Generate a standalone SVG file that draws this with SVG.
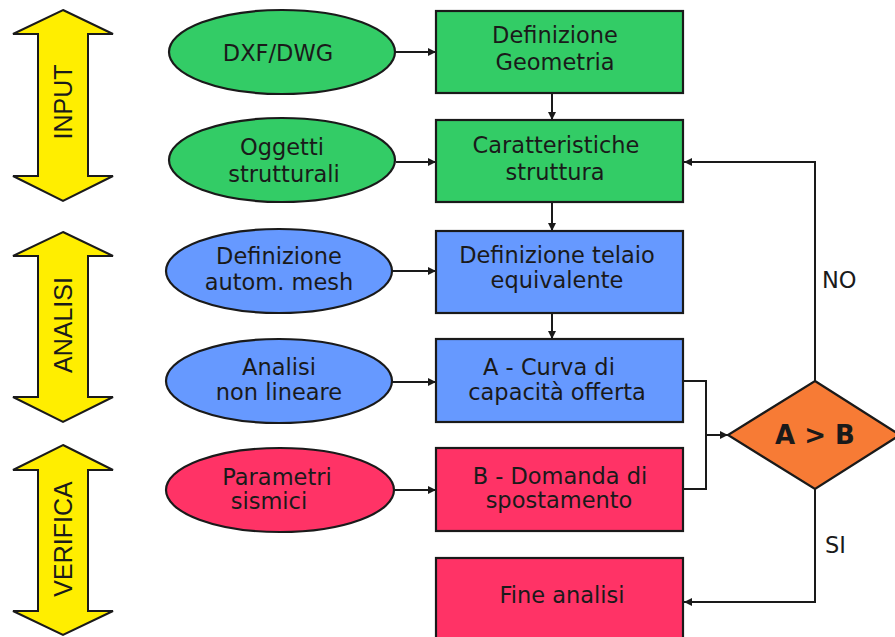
<svg xmlns="http://www.w3.org/2000/svg" width="895" height="637" viewBox="0 0 895 637">
<defs>
<marker id="ah" viewBox="0 0 10 10" refX="10" refY="5" markerWidth="11" markerHeight="8" markerUnits="userSpaceOnUse" orient="auto">
<path d="M0,0 L10,5 L0,10 Z" fill="#1a1a1a"/>
</marker>
<style>
.band{fill:#FFEE00;stroke:#1a1a1a;stroke-width:2;stroke-linejoin:miter}
.bl{font-family:"Liberation Sans",Arial,sans-serif;font-size:25px;fill:#1a1a1a;text-anchor:middle}
.n{stroke:#1a1a1a;stroke-width:2.2}
.g{fill:#33CC66}.b{fill:#6699FF}.r{fill:#FF3366}.o{fill:#F77B35}
.t{font-family:"DejaVu Sans","Liberation Sans",sans-serif;font-size:22.5px;fill:#1a1a1a;text-anchor:middle}
.lab{font-family:"DejaVu Sans","Liberation Sans",sans-serif;font-size:22.5px;fill:#1a1a1a}
.c{fill:none;stroke:#1a1a1a;stroke-width:2}
</style>
</defs>
<rect width="895" height="637" fill="#ffffff"/>

<g id="band-input">
<path class="band" d="M63,10 L113,34 L88,34 L88,176 L113,176 L63,201 L13,176 L38,176 L38,34 L13,34 Z"/>
<text class="bl" transform="translate(72,102) rotate(-90)">INPUT</text>
</g>
<g id="band-analisi">
<path class="band" d="M63,232 L113,256 L88,256 L88,397 L113,397 L63,422 L13,397 L38,397 L38,256 L13,256 Z"/>
<text class="bl" transform="translate(72,325) rotate(-90)">ANALISI</text>
</g>
<g id="band-verifica">
<path class="band" d="M63,445 L113,470 L88,470 L88,611 L113,611 L63,635 L13,611 L38,611 L38,470 L13,470 Z"/>
<text class="bl" transform="translate(72,539) rotate(-90)">VERIFICA</text>
</g>

<g id="connectors">
<line class="c" x1="396" y1="52" x2="436" y2="52" marker-end="url(#ah)"/>
<line class="c" x1="396" y1="162" x2="436" y2="162" marker-end="url(#ah)"/>
<line class="c" x1="392" y1="271" x2="436" y2="271" marker-end="url(#ah)"/>
<line class="c" x1="392" y1="382" x2="436" y2="382" marker-end="url(#ah)"/>
<line class="c" x1="394" y1="490" x2="436" y2="490" marker-end="url(#ah)"/>
<line class="c" x1="552" y1="93" x2="552" y2="120" marker-end="url(#ah)"/>
<line class="c" x1="552" y1="202" x2="552" y2="231" marker-end="url(#ah)"/>
<line class="c" x1="552" y1="313" x2="552" y2="339" marker-end="url(#ah)"/>
<polyline class="c" points="683,381 706,381 706,489 683,489"/>
<line class="c" x1="706" y1="435" x2="728" y2="435" marker-end="url(#ah)"/>
<polyline class="c" points="815,381 815,162 684,162" marker-end="url(#ah)"/>
<polyline class="c" points="815,489 815,602 684,602" marker-end="url(#ah)"/>
<text class="lab" x="822" y="288">NO</text>
<text class="lab" x="825" y="553">SI</text>
</g>

<g id="node-dxf">
<ellipse class="n g" cx="282" cy="52" rx="113" ry="42"/>
<text class="t" x="278" y="61">DXF/DWG</text>
</g>
<g id="node-oggetti">
<ellipse class="n g" cx="282" cy="160" rx="113" ry="42"/>
<text class="t" x="282" y="155">Oggetti</text>
<text class="t" x="284" y="182">strutturali</text>
</g>
<g id="node-mesh">
<ellipse class="n b" cx="279" cy="271" rx="113" ry="42"/>
<text class="t" x="279" y="264">Definizione</text>
<text class="t" x="279" y="290">autom. mesh</text>
</g>
<g id="node-analisi">
<ellipse class="n b" cx="279" cy="381" rx="113" ry="42"/>
<text class="t" x="279" y="375">Analisi</text>
<text class="t" x="279" y="400">non lineare</text>
</g>
<g id="node-parametri">
<ellipse class="n r" cx="280" cy="490" rx="114" ry="42"/>
<text class="t" x="277" y="485">Parametri</text>
<text class="t" x="269" y="509">sismici</text>
</g>

<g id="node-geometria">
<rect class="n g" x="436" y="11" width="247" height="82"/>
<text class="t" x="555" y="43">Definizione</text>
<text class="t" x="555" y="70">Geometria</text>
</g>
<g id="node-caratteristiche">
<rect class="n g" x="436" y="120" width="247" height="82"/>
<text class="t" x="556" y="153">Caratteristiche</text>
<text class="t" x="555" y="180">struttura</text>
</g>
<g id="node-telaio">
<rect class="n b" x="436" y="231" width="247" height="82"/>
<text class="t" x="557" y="263">Definizione telaio</text>
<text class="t" x="557" y="288">equivalente</text>
</g>
<g id="node-curva">
<rect class="n b" x="436" y="339" width="247" height="83"/>
<text class="t" x="549" y="375">A - Curva di</text>
<text class="t" x="557" y="400">capacità offerta</text>
</g>
<g id="node-domanda">
<rect class="n r" x="436" y="448" width="247" height="83"/>
<text class="t" x="560" y="484">B - Domanda di</text>
<text class="t" x="559" y="508">spostamento</text>
</g>
<g id="node-fine">
<rect class="n r" x="436" y="558" width="247" height="90"/>
<text class="t" x="562" y="603">Fine analisi</text>
</g>
<g id="node-decision">
<polygon class="n o" points="815,381 900,435 815,489 728,435"/>
<text x="815" y="444" text-anchor="middle" font-family="'DejaVu Sans','Liberation Sans',sans-serif" font-weight="bold" font-size="26" fill="#1a1a1a">A &gt; B</text>
</g>
</svg>
